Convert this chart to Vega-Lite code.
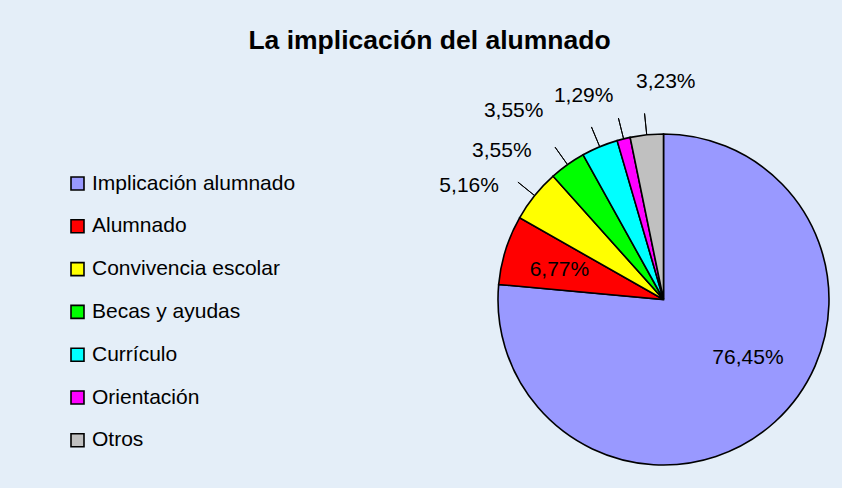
{
  "$schema": "https://vega.github.io/schema/vega-lite/v6.json",
  "autosize": "none",
  "width": 331,
  "height": 331,
  "padding": {"left": 498, "top": 134, "right": 13, "bottom": 23},
  "background": "#E4EEF8",
  "title": {
    "text": "La implicación del alumnado",
    "font": "Liberation Sans",
    "fontSize": 26.5,
    "fontWeight": "bold",
    "color": "#000000",
    "anchor": "middle",
    "baseline": "alphabetic",
    "dx": -234,
    "dy": 5,
    "offset": 0
  },
  "data": {
    "values": [
      {"categoria": "Implicación alumnado", "valor": 76.45, "orden": 1, "etiqueta": "76,45%"},
      {"categoria": "Alumnado", "valor": 6.77, "orden": 2, "etiqueta": "6,77%"},
      {"categoria": "Convivencia escolar", "valor": 5.16, "orden": 3, "etiqueta": "5,16%"},
      {"categoria": "Becas y ayudas", "valor": 3.55, "orden": 4, "etiqueta": "3,55%"},
      {"categoria": "Currículo", "valor": 3.55, "orden": 5, "etiqueta": "3,55%"},
      {"categoria": "Orientación", "valor": 1.29, "orden": 6, "etiqueta": "1,29%"},
      {"categoria": "Otros", "valor": 3.23, "orden": 7, "etiqueta": "3,23%"}
    ]
  },
  "encoding": {
    "theta": {"field": "valor", "type": "quantitative", "stack": true},
    "order": {"field": "orden", "type": "quantitative", "sort": "ascending"}
  },
  "layer": [
    {
      "mark": {"type": "arc", "stroke": "#000000", "strokeWidth": 1.6},
      "encoding": {
        "color": {
          "field": "categoria",
          "type": "nominal",
          "scale": {
            "domain": ["Implicación alumnado", "Alumnado", "Convivencia escolar", "Becas y ayudas", "Currículo", "Orientación", "Otros"],
            "range": ["#9999FF", "#FF0000", "#FFFF00", "#00FF00", "#00FFFF", "#FF00FF", "#C0C0C0"]
          },
          "legend": {
            "title": null,
            "orient": "none",
            "legendX": -431,
            "legendY": 39,
            "padding": 0,
            "symbolType": "square",
            "symbolSize": 169,
            "symbolStrokeColor": "#000000",
            "symbolStrokeWidth": 1.6,
            "symbolOpacity": 1,
            "labelFont": "Liberation Sans",
            "labelFontSize": 21,
            "labelColor": "#000000",
            "labelOffset": 4,
            "labelLimit": 400,
            "rowPadding": 20.8
          }
        }
      }
    },
    {
      "mark": {"type": "arc", "radius": 187, "radius2": 166, "padAngle": 1.2, "fill": null, "fillOpacity": 0, "stroke": "#000000", "strokeWidth": 1},
      "encoding": {
        "strokeOpacity": {"condition": {"test": "datum.orden >= 3", "value": 1}, "value": 0}
      }
    },
    {
      "mark": {"type": "text", "radius": 103, "dx": 15, "dy": -18, "font": "Liberation Sans", "fontSize": 21, "color": "#000000"},
      "encoding": {"text": {"condition": {"test": "datum.orden === 1", "field": "etiqueta"}, "value": ""}}
    },
    {
      "mark": {"type": "text", "radius": 108, "dx": -1, "dy": 3, "font": "Liberation Sans", "fontSize": 21, "color": "#000000"},
      "encoding": {"text": {"condition": {"test": "datum.orden === 2", "field": "etiqueta"}, "value": ""}}
    },
    {
      "mark": {"type": "text", "radius": 215, "dx": -27, "dy": 21, "font": "Liberation Sans", "fontSize": 21, "color": "#000000"},
      "encoding": {"text": {"condition": {"test": "datum.orden === 3", "field": "etiqueta"}, "value": ""}}
    },
    {
      "mark": {"type": "text", "radius": 215, "dx": -37, "dy": 27, "font": "Liberation Sans", "fontSize": 21, "color": "#000000"},
      "encoding": {"text": {"condition": {"test": "datum.orden === 4", "field": "etiqueta"}, "value": ""}}
    },
    {
      "mark": {"type": "text", "radius": 215, "dx": -67, "dy": 10, "font": "Liberation Sans", "fontSize": 21, "color": "#000000"},
      "encoding": {"text": {"condition": {"test": "datum.orden === 5", "field": "etiqueta"}, "value": ""}}
    },
    {
      "mark": {"type": "text", "radius": 215, "dx": -28, "dy": 5, "font": "Liberation Sans", "fontSize": 21, "color": "#000000"},
      "encoding": {"text": {"condition": {"test": "datum.orden === 6", "field": "etiqueta"}, "value": ""}}
    },
    {
      "mark": {"type": "text", "radius": 215, "dx": 24, "dy": -4, "font": "Liberation Sans", "fontSize": 21, "color": "#000000"},
      "encoding": {"text": {"condition": {"test": "datum.orden === 7", "field": "etiqueta"}, "value": ""}}
    }
  ],
  "config": {"view": {"stroke": null}}
}
